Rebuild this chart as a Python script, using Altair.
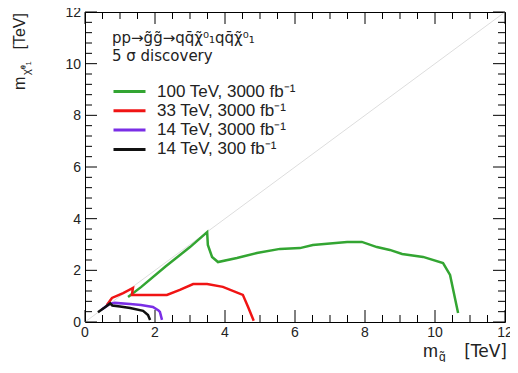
import altair as alt
import pandas as pd

# ---------------- data ----------------
series_names = ["100 TeV, 3000 fb⁻¹", "33 TeV, 3000 fb⁻¹", "14 TeV, 3000 fb⁻¹", "14 TeV, 300 fb⁻¹"]
series_colors = ["#33a532", "#f01414", "#7a2ee6", "#111111"]

green_x = [1.23, 1.6, 2.3, 3.0, 3.49, 3.51, 3.63, 3.8, 4.34, 4.91, 5.57, 6.14, 6.51, 7.49, 7.91, 8.34, 8.71, 9.06, 9.66, 10.23, 10.43, 10.66]
green_y = [0.97, 1.35, 2.15, 2.9, 3.48, 2.98, 2.52, 2.32, 2.48, 2.67, 2.83, 2.86, 2.98, 3.10, 3.10, 2.90, 2.79, 2.63, 2.52, 2.28, 1.82, 0.35]

red_x = [0.62, 0.77, 1.09, 1.37, 1.34, 1.77, 2.34, 2.71, 3.09, 3.49, 3.94, 4.51, 4.66, 4.82]
red_y = [0.65, 0.93, 1.12, 1.32, 1.05, 1.05, 1.05, 1.24, 1.47, 1.47, 1.36, 1.05, 0.58, 0.05]

purple_x = [0.48, 0.70, 0.85, 1.29, 1.60, 1.94, 2.10, 2.14, 2.20]
purple_y = [0.48, 0.70, 0.74, 0.70, 0.66, 0.58, 0.45, 0.39, 0.08]

black_x = [0.37, 0.55, 0.72, 0.78, 1.00, 1.29, 1.66, 1.80, 1.86]
black_y = [0.38, 0.55, 0.72, 0.64, 0.60, 0.54, 0.43, 0.27, 0.08]

diag_x = [0, 12]
diag_y = [0, 12]

x_major = [0, 2, 4, 6, 8, 10, 12]
x_minor = [v / 2 for v in range(0, 25) if v % 4 != 0]
y_major = [0, 2, 4, 6, 8, 10, 12]
y_minor = [round(v * 0.4, 1) for v in range(0, 31) if v % 5 != 0]

legend_title = ["pp→g̃g̃→qq̄χ̃⁰₁qq̄χ̃⁰₁", "5 σ discovery"]

# ---------------- build tables ----------------
rows = []
for name, xs_, ys_ in zip(series_names, [green_x, red_x, purple_x, black_x],
                          [green_y, red_y, purple_y, black_y]):
    for i, (a, b) in enumerate(zip(xs_, ys_)):
        rows.append({"series": name, "x": a, "y": b, "i": i})
curves_df = pd.DataFrame(rows)
diag_df = pd.DataFrame({"x": diag_x, "y": diag_y})

W, H = 420, 310
FONT = "Liberation Sans"

xs = alt.Scale(domain=[0, 12], nice=False, zero=False)
ys = alt.Scale(domain=[0, 12], nice=False, zero=False)

diag = alt.Chart(diag_df).mark_line(color="#dddddd", strokeWidth=1).encode(
    x=alt.X("x:Q", scale=xs, axis=None),
    y=alt.Y("y:Q", scale=ys, axis=None),
)

# tick lengths (12 px major, 7 px minor) expressed in axis units
XMAJ, XMIN = 12 * 12 / H, 7 * 12 / H
YMAJ, YMIN = 12 * 12 / W, 7 * 12 / W


def xticks(values, a, b):
    return alt.Chart(pd.DataFrame({"xv": values})).mark_rule(color="black", strokeWidth=1).encode(
        x=alt.X("xv:Q", scale=xs, axis=None),
        y=alt.Y(datum=a, scale=ys, axis=None), y2=alt.datum(b))


def yticks(values, a, b):
    return alt.Chart(pd.DataFrame({"yv": values})).mark_rule(color="black", strokeWidth=1).encode(
        y=alt.Y("yv:Q", scale=ys, axis=None),
        x=alt.X(datum=a, scale=xs, axis=None), x2=alt.datum(b))


tick_layers = [
    xticks(x_major, 0, XMAJ), xticks(x_minor, 0, XMIN),
    xticks(x_major, 12, 12 - XMAJ), xticks(x_minor, 12, 12 - XMIN),
    yticks(y_major, 0, YMAJ), yticks(y_minor, 0, YMIN),
    yticks(y_major, 12, 12 - YMAJ), yticks(y_minor, 12, 12 - YMIN),
]

# tick labels placed through the same scales
xlabels = alt.Chart(pd.DataFrame({"xl": x_major})).mark_text(
    font=FONT, fontSize=14, color="#222", baseline="alphabetic", align="center"
).encode(x=alt.X("xl:Q", scale=xs, axis=None), y=alt.value(H + 15), text=alt.Text("xl:Q", format="d"))

ylabels = alt.Chart(pd.DataFrame({"yl": y_major})).mark_text(
    font=FONT, fontSize=14, color="#222", baseline="middle", align="right", dy=1
).encode(y=alt.Y("yl:Q", scale=ys, axis=None), x=alt.value(-4), text=alt.Text("yl:Q", format="d"))

curves = alt.Chart(curves_df).mark_line(strokeWidth=2.5).encode(
    x=alt.X("x:Q", scale=xs, axis=None),
    y=alt.Y("y:Q", scale=ys, axis=None),
    color=alt.Color("series:N", scale=alt.Scale(domain=series_names, range=series_colors),
                    legend=alt.Legend(title=legend_title, orient="none", legendX=27, legendY=19,
                                      symbolType="M-1,0H3", symbolSize=256, symbolStrokeWidth=3,
                                      labelFont=FONT, labelFontSize=17, labelColor="#222",
                                      titleFont="DejaVu Sans", titleFontSize=15, titleFontWeight="normal",
                                      titleColor="#222", titleLineHeight=18, titlePadding=18,
                                      labelOffset=26, rowPadding=1.3, padding=0,
                                      labelLimit=400, titleLimit=400)),
    detail="series:N",
    order="i:Q",
)


def txt(s, x, y, size, angle=0, align="left", font=FONT):
    return alt.Chart(pd.DataFrame({"t": [s]})).mark_text(
        align=align, baseline="alphabetic", fontSize=size, font=font, angle=angle, color="#222"
    ).encode(text="t:N", x=alt.value(x), y=alt.value(y))


# x title: m_g̃ [TeV]
xt1 = txt("m", 338, 345, 18)
xt2 = txt("g̃", 354, 349, 12)
xt3 = txt("[TeV]", 422, 345, 17, align="right", font="DejaVu Sans")
# y title: m_χ̃⁰₁ [TeV]
yt1 = txt("[TeV]", -60, 1, 16, angle=270, align="right")
yt2 = txt("m", -60, 78, 16, angle=270, align="left")
yt3 = txt("χ̃⁰₁", -55, 63, 11, angle=270, align="left")

chart = alt.layer(diag, xlabels, ylabels, curves, xt1, xt2, xt3, yt1, yt2, yt3, *tick_layers).properties(
    width=W, height=H,
    autosize=alt.AutoSizeParams(type="none"),
    padding={"left": 77, "top": 4, "right": 5, "bottom": 40},
    background="white",
).configure_view(stroke="black", strokeWidth=1)

chart.save("out.html", embed_options={"renderer": "svg", "actions": False})
